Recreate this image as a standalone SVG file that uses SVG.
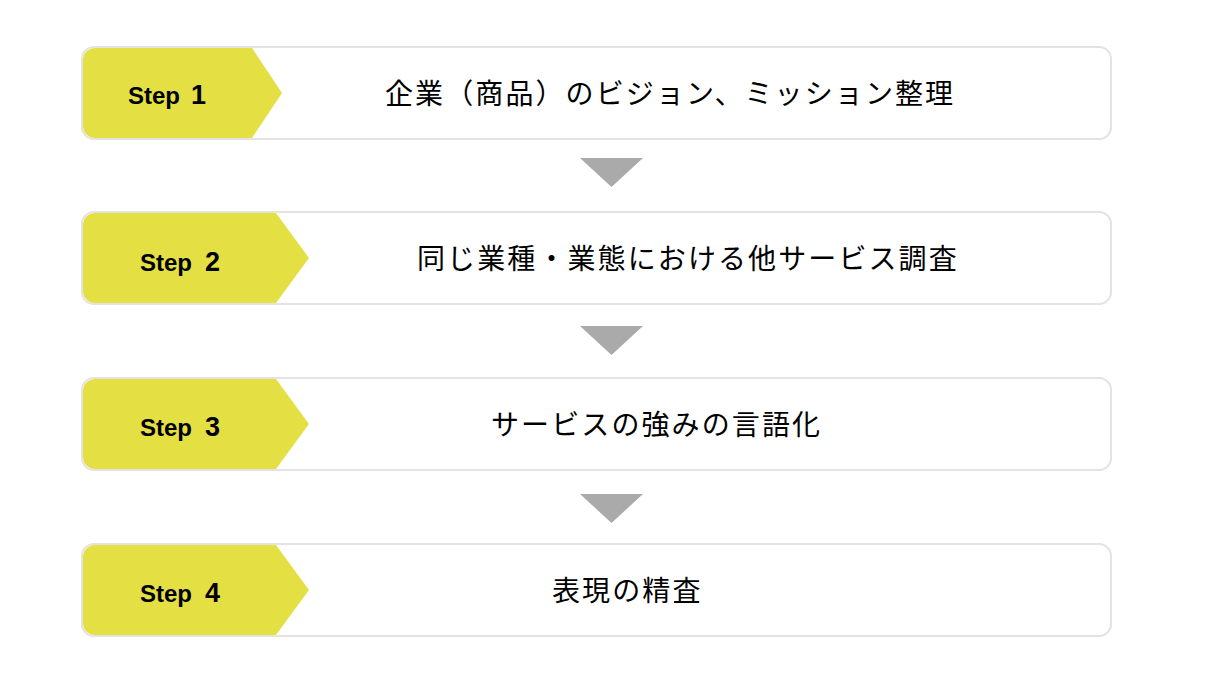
<svg xmlns="http://www.w3.org/2000/svg" width="1206" height="690" viewBox="0 0 1206 690">
<style>
.box{fill:#ffffff;stroke:#e3e3e3;stroke-width:2}
.tag{fill:#e4e043}
.step{font-family:"Liberation Sans",Arial,sans-serif;font-weight:bold;fill:#000;font-size:24px}
.num{font-size:27px}
.main{font-family:"Noto Sans CJK JP","Noto Sans CJK SC",sans-serif;font-size:28px;letter-spacing:2.1px;fill:#000}
.arrow{fill:#aaaaaa}
</style>
<rect width="1206" height="690" fill="#ffffff"/>
<g id="step1">
<rect class="box" x="82" y="47" width="1029" height="92" rx="12"/>
<path class="tag" d="M95,48 H252 L282,93 L252,138 H95 A12,12 0 0 1 83,126 V60 A12,12 0 0 1 95,48 Z"/>
<text class="step" x="128" y="103.5">Step<tspan class="num" x="191">1</tspan></text>
<text class="main" x="385" y="104">企業（商品）のビジョン、ミッション整理</text>
</g>
<g id="step2">
<rect class="box" x="82" y="212" width="1029" height="92" rx="12"/>
<path class="tag" d="M95,213 H276 L309,258 L276,303 H95 A12,12 0 0 1 83,291 V225 A12,12 0 0 1 95,213 Z"/>
<text class="step" x="140" y="271">Step<tspan class="num" x="205">2</tspan></text>
<text class="main" x="417" y="269">同じ業種・業態における他サービス調査</text>
</g>
<g id="step3">
<rect class="box" x="82" y="378" width="1029" height="92" rx="12"/>
<path class="tag" d="M95,379 H276 L309,424 L276,469 H95 A12,12 0 0 1 83,457 V391 A12,12 0 0 1 95,379 Z"/>
<text class="step" x="140" y="436">Step<tspan class="num" x="205">3</tspan></text>
<text class="main" x="491" y="435">サービスの強みの言語化</text>
</g>
<g id="step4">
<rect class="box" x="82" y="544" width="1029" height="92" rx="12"/>
<path class="tag" d="M95,545 H276 L309,590 L276,635 H95 A12,12 0 0 1 83,623 V557 A12,12 0 0 1 95,545 Z"/>
<text class="step" x="140" y="601.5">Step<tspan class="num" x="205">4</tspan></text>
<text class="main" x="552" y="601">表現の精査</text>
</g>
<g id="connectors">
<polygon class="arrow" points="580,158 643,158 611.5,187"/>
<polygon class="arrow" points="580,326 643,326 611.5,355"/>
<polygon class="arrow" points="580,494 643,494 611.5,523"/>
</g>
</svg>
